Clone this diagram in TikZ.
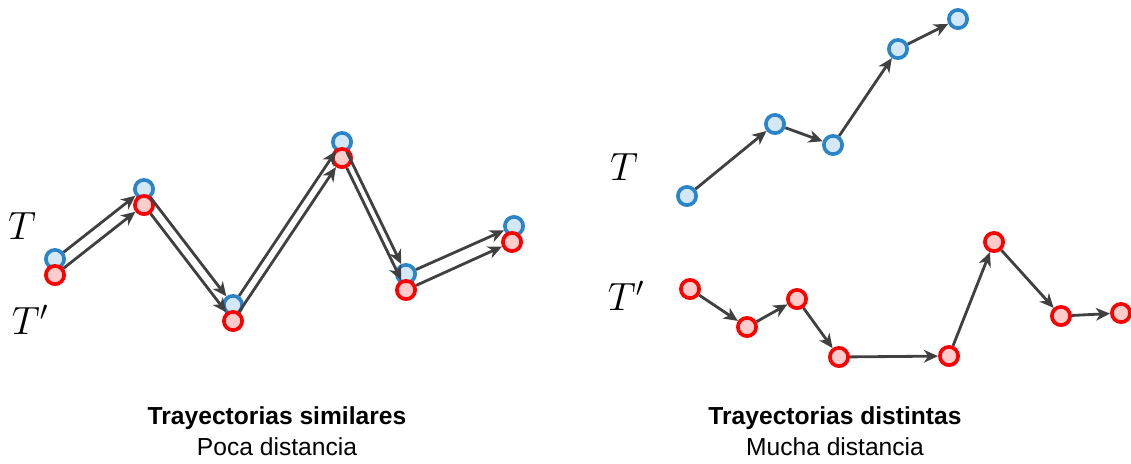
\documentclass[tikz,border=0pt]{standalone}
\usepackage{fix-cm}
\usepackage{amsmath}
\usepackage{fontspec}
\setmainfont{Liberation Sans}
\usetikzlibrary{positioning, arrows.meta}

\definecolor{ptblue}{HTML}{2A86C8}
\definecolor{ptbluefill}{HTML}{D4E7F6}
\definecolor{ptred}{HTML}{FF0000}
\definecolor{ptredfill}{HTML}{FFCCCC}
\definecolor{edgegray}{HTML}{404040}

\begin{document}
\begin{tikzpicture}[x=0.025cm, y=-0.025cm,
		% Define styles for the points
		bluept/.style={
			circle, draw=ptblue, fill=ptbluefill, line width=2.6pt,
			minimum size=13pt, inner sep=0pt
		},
		redpt/.style={
			circle, draw=ptred, fill=ptredfill, line width=2.6pt,
			minimum size=13pt, inner sep=0pt
		},
		edge/.style={
			-{Stealth[length=10pt, width=9pt, inset=3pt]}, line width=2pt, draw=edgegray
		},
		trajlabel/.style={font=\fontsize{28}{32}\selectfont},
		titletext/.style={font=\fontsize{17.5}{20}\selectfont\bfseries},
		subtext/.style={font=\fontsize{17.5}{20}\selectfont}
		]
		\useasboundingbox (0,0) rectangle (1131,463);
		
		% Left: similar trajectories (T, blue)
		\node[bluept] (la1) at (55,259) {};
		\node[bluept] (la2) at (144,189) {};
		\node[bluept] (la3) at (233,305) {};
		\node[bluept] (la4) at (342,142) {};
		\node[bluept] (la5) at (406,274) {};
		\node[bluept] (la6) at (514,226) {};
		
		% Left: similar trajectories (T', red)
		\node[redpt] (lb1) at (55,275) {};
		\node[redpt] (lb2) at (144,205) {};
		\node[redpt] (lb3) at (233,321) {};
		\node[redpt] (lb4) at (342,158) {};
		\node[redpt] (lb5) at (406,290) {};
		\node[redpt] (lb6) at (512,242) {};
		
		\draw[edge] (la1) -- (la2);
		\draw[edge] (la2) -- (la3);
		\draw[edge] (la3) -- (la4);
		\draw[edge] (la4) -- (la5);
		\draw[edge] (la5) -- (la6);
		\draw[edge] (lb1) -- (lb2);
		\draw[edge] (lb2) -- (lb3);
		\draw[edge] (lb3) -- (lb4);
		\draw[edge] (lb4) -- (lb5);
		\draw[edge] (lb5) -- (lb6);
		
		\node[trajlabel] (lt) at (22,226) {$T$};
		\node[trajlabel] (ltp) at (30,320) {$T'$};
		
		% Right: distinct trajectories (T, blue)
		\node[bluept] (ra1) at (687,196) {};
		\node[bluept] (ra2) at (775,124) {};
		\node[bluept] (ra3) at (833,145) {};
		\node[bluept] (ra4) at (898,49) {};
		\node[bluept] (ra5) at (958,19) {};
		
		\draw[edge] (ra1) -- (ra2);
		\draw[edge] (ra2) -- (ra3);
		\draw[edge] (ra3) -- (ra4);
		\draw[edge] (ra4) -- (ra5);
		
		% Right: distinct trajectories (T', red)
		\node[redpt] (rb1) at (690,289) {};
		\node[redpt] (rb2) at (747,327) {};
		\node[redpt] (rb3) at (797,299) {};
		\node[redpt] (rb4) at (839,357) {};
		\node[redpt] (rb5) at (949,356) {};
		\node[redpt] (rb6) at (994,242) {};
		\node[redpt] (rb7) at (1061,316) {};
		\node[redpt] (rb8) at (1121,313) {};
		
		\draw[edge] (rb1) -- (rb2);
		\draw[edge] (rb2) -- (rb3);
		\draw[edge] (rb3) -- (rb4);
		\draw[edge] (rb4) -- (rb5);
		\draw[edge] (rb5) -- (rb6);
		\draw[edge] (rb6) -- (rb7);
		\draw[edge] (rb7) -- (rb8);
		
		\node[trajlabel] (rt) at (624,167) {$T$};
		\node[trajlabel] (rtp) at (626,296) {$T'$};
		
		% Captions
		\node[titletext] (ltitle) at (277,418) {Trayectorias similares};
		\node[subtext] (lsub) at (277,447) {Poca distancia};
		\node[titletext] (rtitle) at (835,418) {Trayectorias distintas};
		\node[subtext] (rsub) at (835,447) {Mucha distancia};
		
	\end{tikzpicture}
\end{document}
